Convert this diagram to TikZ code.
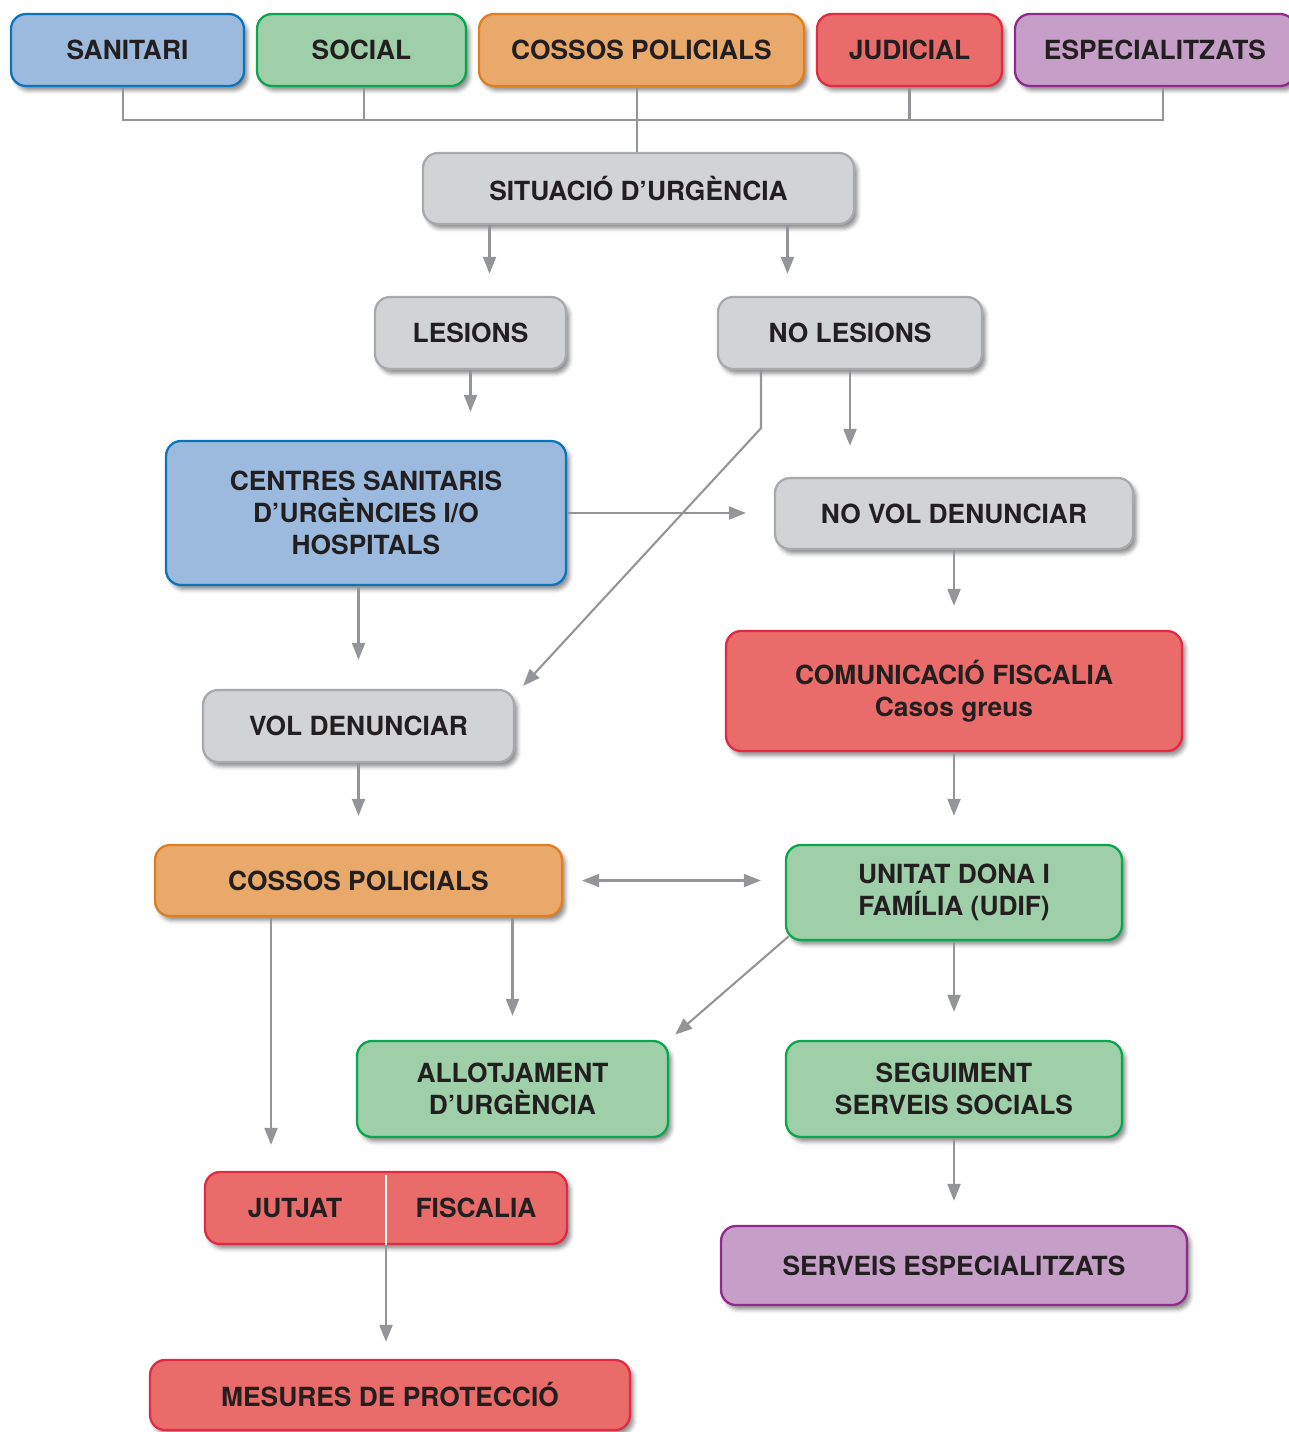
\documentclass[tikz,border=0pt]{standalone}
\usepackage{fontspec}
\setmainfont{TeX Gyre Heros}
\usetikzlibrary{positioning,arrows.meta,shadows.blur}

\definecolor{ink}{HTML}{231F20}
\definecolor{lineg}{HTML}{939598}
\definecolor{greyF}{HTML}{D1D3D4}
\definecolor{greyD}{HTML}{A7A9AC}
\definecolor{blueF}{HTML}{9BBADD}
\definecolor{blueD}{HTML}{0A75BC}
\definecolor{greenF}{HTML}{9ECFA9}
\definecolor{greenD}{HTML}{0AA64F}
\definecolor{orangeF}{HTML}{E8A96B}
\definecolor{orangeD}{HTML}{E07F22}
\definecolor{redF}{HTML}{E96C6A}
\definecolor{redD}{HTML}{E22A43}
\definecolor{purpleF}{HTML}{C69FC9}
\definecolor{purpleD}{HTML}{93298F}

\tikzset{
  boxfont/.style={text=ink, font=\fontsize{15}{18.2}\selectfont\bfseries},
  box/.style={draw, rounded corners=0.3cm, line width=1.3pt, align=center,
    inner sep=0pt, boxfont,
    blur shadow={shadow xshift=0.07cm, shadow yshift=-0.09cm,
      shadow blur radius=0.08cm, shadow opacity=45}},
  greybox/.style={box, fill=greyF, draw=greyD},
  bluebox/.style={box, fill=blueF, draw=blueD},
  greenbox/.style={box, fill=greenF, draw=greenD},
  orangebox/.style={box, fill=orangeF, draw=orangeD},
  redbox/.style={box, fill=redF, draw=redD},
  purplebox/.style={box, fill=purpleF, draw=purpleD},
  link/.style={draw=lineg, line width=1.2pt},
  arr/.style={link, arrows={-Triangle[length=0.34cm, width=0.26cm]}},
  darr/.style={link, arrows={Triangle[length=0.34cm, width=0.26cm]-Triangle[length=0.34cm, width=0.26cm]}},
}

\begin{document}
\begin{tikzpicture}[x=0.02cm, y=-0.02cm]
        \useasboundingbox (0,0) rectangle (1288,1432);

        % Nodes
        \node [bluebox, minimum width=4.66cm, minimum height=1.44cm] (san) at (127.5,50) {SANITARI};
        \node [greenbox, minimum width=4.18cm, minimum height=1.44cm] (soc) at (361.5,50) {SOCIAL};
        \node [orangebox, minimum width=6.5cm, minimum height=1.44cm] (cop) at (641.5,50) {COSSOS POLICIALS};
        \node [redbox, minimum width=3.7cm, minimum height=1.44cm] (jud) at (909.5,50) {JUDICIAL};
        \node [purplebox, minimum width=5.6cm, minimum height=1.44cm] (esp) at (1155,50) {ESPECIALITZATS};

        \node [greybox, minimum width=8.62cm, minimum height=1.42cm] (sit) at (638.5,188.5) {SITUACIÓ D’URGÈNCIA};
        \node [greybox, minimum width=3.82cm, minimum height=1.44cm] (les) at (470.5,333) {LESIONS};
        \node [greybox, minimum width=5.28cm, minimum height=1.44cm] (nol) at (850,333) {NO LESIONS};

        \node [bluebox, minimum width=8cm, minimum height=2.88cm] (cen) at (366,513)
              {CENTRES SANITARIS\\D’URGÈNCIES I/O\\HOSPITALS};
        \node [greybox, minimum width=7.16cm, minimum height=1.42cm] (nov) at (954,513.5) {NO VOL DENUNCIAR};
        \node [redbox, minimum width=9.12cm, minimum height=2.4cm] (com) at (954,691)
              {COMUNICACIÓ FISCALIA\\Casos greus};
        \node [greybox, minimum width=6.22cm, minimum height=1.44cm] (vol) at (358.5,726) {VOL DENUNCIAR};

        \node [orangebox, minimum width=8.14cm, minimum height=1.42cm] (cos) at (358.5,880.5) {COSSOS POLICIALS};
        \node [greenbox, minimum width=6.72cm, minimum height=1.9cm] (udif) at (954,892.5)
              {UNITAT DONA I\\FAMÍLIA (UDIF)};
        \node [greenbox, minimum width=6.22cm, minimum height=1.92cm] (all) at (512.5,1089)
              {ALLOTJAMENT\\D’URGÈNCIA};
        \node [greenbox, minimum width=6.72cm, minimum height=1.92cm] (seg) at (954,1089)
              {SEGUIMENT\\SERVEIS SOCIALS};

        % Jutjat / Fiscalia share one box
        \node [redbox, minimum width=7.24cm, minimum height=1.44cm] (jf) at (386,1208) {};
        \node [boxfont] (jut) at (295,1208) {JUTJAT};
        \node [boxfont] (fis) at (476,1208) {FISCALIA};
        \draw [white, line width=1.2pt] ([yshift=-0.08cm]jf.north) -- (jf.south);

        \node [purplebox, minimum width=9.32cm, minimum height=1.58cm] (serv) at (954,1265.5) {SERVEIS ESPECIALITZATS};
        \node [redbox, minimum width=9.6cm, minimum height=1.4cm] (mes) at (390,1395) {MESURES DE PROTECCIÓ};

        % Lines from the top row
        \coordinate (bus) at (0,120);
        \coordinate (sanc) at ([xshift=-0.09cm]san.south);
        \coordinate (socc) at ([xshift=0.05cm]soc.south);
        \coordinate (copc) at ([xshift=-0.09cm]cop.south);
        \coordinate (espc) at ([xshift=0.16cm]esp.south);
        \draw [link] (sanc) |- (bus -| espc) -- (espc);
        \draw [link] (socc) -- (socc |- bus);
        \draw [link] (jud.south) -- (jud.south |- bus);
        \draw [link] (copc) -- (copc |- sit.north);

        % Arrows
        \draw [arr, shorten >=0.44cm] ([xshift=-2.98cm]sit.south) -- ([xshift=-2.98cm]sit.south |- les.north);
        \draw [arr, shorten >=0.44cm] ([xshift=2.98cm]sit.south) -- ([xshift=2.98cm]sit.south |- nol.north);
        \draw [arr, shorten >=0.56cm] (les.south) -- (les.south |- cen.north);
        \draw [arr, shorten >=0.62cm] (nol.south) -- (nol.south |- nov.north);
        \draw [arr] ([xshift=-1.78cm]nol.south) -- ++(0,58) -- ([xshift=0.16cm, yshift=0.06cm]vol.north east);
        \draw [arr, shorten >=0.56cm] (cen.east) -- (cen.east -| nov.west);
        \draw [arr, shorten >=0.58cm] (vol.north |- cen.south) -- (vol.north);
        \draw [arr, shorten >=0.48cm] (nov.south) -- (com.north);
        \draw [arr, shorten >=0.56cm] (com.south) -- (udif.north);
        \draw [arr, shorten >=0.56cm] (vol.south) -- (cos.north);
        \draw [darr, shorten <=0.38cm, shorten >=0.48cm] (cos.east) -- (cos.east -| udif.west);
        \draw [arr, shorten >=0.52cm] ([xshift=-1.75cm]cos.south) -- ([xshift=-1.75cm]cos.south |- jf.north);
        \draw [arr, shorten >=0.48cm] (all.north |- cos.south) -- (all.north);
        \draw [arr, shorten >=0.16cm] ([xshift=0.08cm, yshift=0.1cm]udif.south west) -- (all.north east);
        \draw [arr, shorten >=0.56cm] (udif.south) -- (seg.north);
        \draw [arr, shorten >=0.48cm] (seg.south) -- (serv.north);
        \draw [arr, shorten >=0.34cm] (jf.south) -- (jf.south |- mes.north);
    \end{tikzpicture}
\end{document}
